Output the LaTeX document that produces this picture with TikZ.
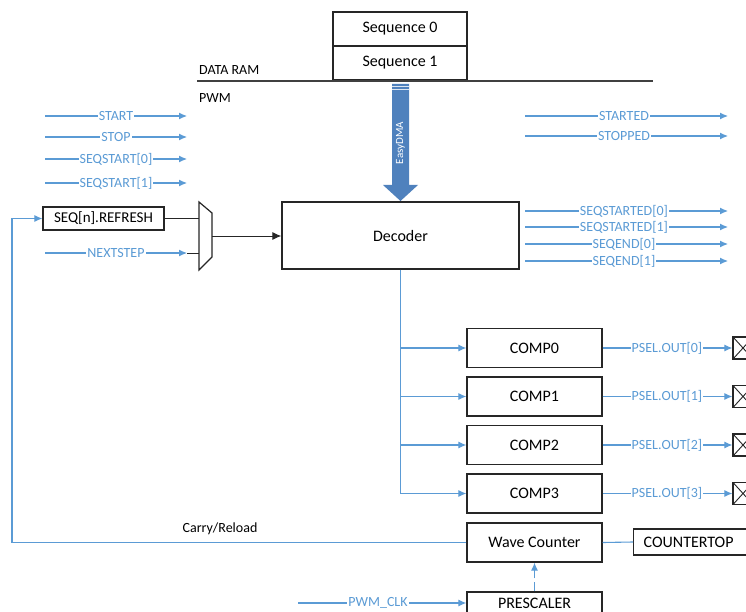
\documentclass[tikz,border=0pt]{standalone}
\usepackage{fontspec}
\setmainfont{Carlito}
\usetikzlibrary{arrows.meta,calc}
\definecolor{sig}{HTML}{5B9BD5}
\definecolor{dma}{HTML}{4F81BD}
\begin{document}
\begin{tikzpicture}[x=1pt,y=-1pt,
  box/.style={draw=black!85,line width=1.3pt,fill=white,inner sep=0pt,font=\fontsize{16}{18}\selectfont},
  sigline/.style={draw=sig,line width=1.1pt},
  sigarrow/.style={sigline,-{Latex[length=8pt,width=7pt]}},
  blkline/.style={draw=black!85,line width=0.9pt},
  lbl/.style={fill=white,text=sig,inner sep=1pt,font=\fontsize{14}{16}\selectfont},
  plain/.style={inner sep=0pt,font=\fontsize{14}{16}\selectfont},
  xbox/.style={draw=black!85,line width=1.2pt,minimum width=20pt,minimum height=22pt,inner sep=0pt,
    path picture={\draw[black!85,line width=0.9pt] (path picture bounding box.north west) -- (path picture bounding box.south east)
      (path picture bounding box.south west) -- (path picture bounding box.north east);}}
]
\useasboundingbox (0,0) rectangle (746,612);

% memory
\node[box,minimum width=134pt,minimum height=34pt] (seq0) at (400,29) {Sequence 0};
\node[box,minimum width=134pt,minimum height=34pt] (seq1) at (400,63) {Sequence 1};
\coordinate (ramL) at (197,81);
\coordinate (ramR) at (653,81);
\draw[black!75,line width=1.3pt] (ramL) -- (ramR);
\node[plain,anchor=west] (dataram) at (199,70) {DATA RAM};
\node[plain,anchor=west] (pwm) at (199,98) {PWM};

% decoder
\node[box,minimum width=237pt,minimum height=67pt] (dec) at (400.5,235.5) {Decoder};

% EasyDMA arrow
\fill[dma] (392,84) -- (409,84) -- (409,185) -- (418,185) -- (400.5,201) -- (383,185) -- (392,185) -- cycle;
\draw[white!80!dma,line width=0.8pt] (392,86.5) -- (409,86.5) (392,89.5) -- (409,89.5);
\node[rotate=90,text=white,inner sep=0pt,font=\fontsize{11}{12}\selectfont] (dmatxt) at (400.5,143) {EasyDMA};

% left inputs
\foreach \n/\y/\t in {st/116/START,sp/137/STOP,s0/159/SEQSTART[0],s1/183/SEQSTART[1]}{
  \coordinate (\n a) at (45,\y);
  \coordinate (\n b) at (187,\y);
  \draw[sigarrow] (\n a) -- (\n b);
  \node[lbl] (\n l) at (116,\y) {\t};
}

% refresh box and mux
\node[box,minimum width=121pt,minimum height=23pt,font=\fontsize{15}{17}\selectfont] (ref) at (103.5,218.5) {SEQ[n].REFRESH};
\coordinate (m1) at (199,202);
\coordinate (m2) at (212,213);
\coordinate (m3) at (212,257);
\coordinate (m4) at (199,270);
\coordinate (muxout) at (212,236);
\coordinate (muxin1) at (199,218.5);
\coordinate (muxin2) at (199,253);
\draw[blkline] (ref.east) -- (muxin1);
\coordinate (nsa) at (45,253);
\coordinate (nsb) at (187,253);
\draw[sigarrow] (nsa) -- (nsb);
\node[lbl] (nsl) at (116,253) {NEXTSTEP};
\draw[blkline] (nsb) -- (muxin2);
\draw[black!85,line width=1.2pt,fill=white] (m1) -- (m2) -- (m3) -- (m4) -- cycle;
\draw[blkline,-{Latex[length=9pt,width=8pt]}] (muxout) -- (dec.west |- muxout);

% right outputs
\foreach \n/\y/\t in {sd/116/STARTED,so/136/STOPPED,q0/211/SEQSTARTED[0],q1/227/SEQSTARTED[1],e0/244/SEQEND[0],e1/261/SEQEND[1]}{
  \coordinate (\n a) at (525,\y);
  \coordinate (\n b) at (728,\y);
  \draw[sigarrow] (\n a) -- (\n b);
  \node[lbl] (\n l) at (624,\y) {\t};
}

% comparators
\foreach \i/\y in {0/348,1/396.5,2/445,3/493.5}{
  \node[box,minimum width=135pt,minimum height=39pt] (comp\i) at (534.5,\y) {COMP\i};
  \node[xbox] (x\i) at (743,\y) {};
  \draw[sigarrow] (comp\i.east) -- (x\i.west);
  \node[lbl] (pl\i) at (667,\y) {PSEL.OUT[\i]};
}
\draw[sigline] (dec.south) -- (dec.south |- comp3);
\foreach \i in {0,1,2,3}{
  \draw[sigarrow] (dec.south |- comp\i) -- (comp\i.west);
}

% counter
\node[box,minimum width=135pt,minimum height=39pt] (wave) at (534.5,542.5) {Wave Counter};
\node[box,minimum width=128pt,minimum height=26pt,anchor=west,text width=120pt,align=left] (ctop) at (633,542) {\hspace*{6pt}COUNTERTOP};
\draw[sigline] (wave.east) -- (ctop.west);
\coordinate (fb) at (12,542.5);
\draw[sigarrow] (wave.west) -- (fb) |- (ref.west);
\node[plain] (carry) at (220,529) {Carry/Reload};

\node[box,minimum width=135pt,minimum height=22pt] (pre) at (534.5,603) {PRESCALER};
\draw[sigarrow,dashed,dash pattern=on 9pt off 4pt] (pre.north) -- (wave.south);
\coordinate (clka) at (298,603);
\draw[sigarrow] (clka) -- (pre.west);
\node[lbl] (clkl) at (378,603) {PWM\_CLK};
\end{tikzpicture}
\end{document}
